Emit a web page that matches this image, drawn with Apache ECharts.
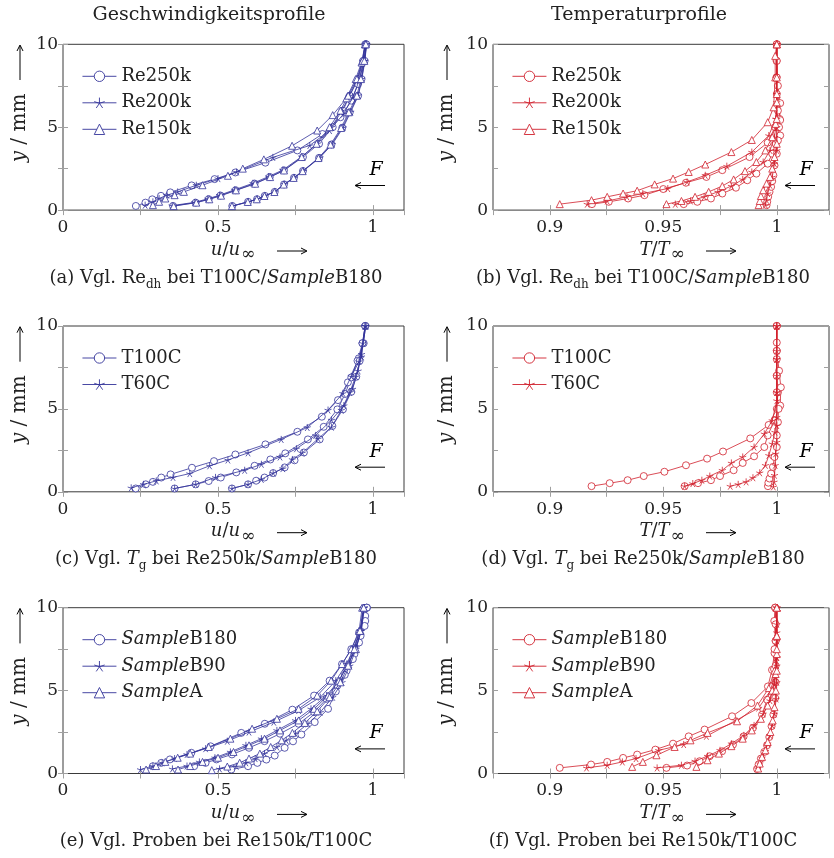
<!DOCTYPE html>
<html>
<head>
<meta charset="utf-8">
<script src="https://cdn.jsdelivr.net/npm/echarts@6/dist/echarts.min.js"></script>
<style>
  html, body { margin: 0; padding: 0; background: #fff; }
  #chart { width: 834px; height: 858px; }
</style>
</head>
<body>
<div id="chart"></div>
<script>
// ---------------- measured profiles: [value, y in mm] ----------------
// Each series holds three wall-normal profiles (three measurement stations).

// (a) velocity, Reynolds number variation
const velRe250k = [
  [[0.235,0.25],[0.266,0.45],[0.288,0.65],[0.316,0.86],[0.346,1.07],[0.415,1.49],[0.489,1.87],[0.556,2.27],[0.653,2.86],[0.756,3.6],[0.837,4.59],[0.895,5.6],[0.93,6.6],[0.952,7.6],[0.97,9.0],[0.978,10]],
  [[0.355,0.25],[0.428,0.45],[0.47,0.66],[0.508,0.88],[0.557,1.2],[0.618,1.6],[0.667,2.0],[0.713,2.4],[0.774,3.2],[0.826,4.0],[0.87,5.0],[0.903,6.0],[0.925,6.9],[0.952,7.9],[0.968,9.0],[0.975,10]],
  [[0.546,0.25],[0.597,0.5],[0.626,0.66],[0.651,0.86],[0.683,1.1],[0.713,1.55],[0.745,1.95],[0.774,2.36],[0.826,3.15],[0.866,3.96],[0.901,4.97],[0.925,5.9],[0.952,6.9],[0.963,7.9],[0.973,9.0],[0.978,10]]
];
const velRe200k = [
  [[0.265,0.3],[0.29,0.5],[0.31,0.7],[0.335,0.9],[0.37,1.1],[0.43,1.5],[0.5,1.9],[0.56,2.3],[0.677,3.18],[0.796,3.9],[0.86,4.8],[0.905,5.8],[0.935,6.8],[0.955,7.8],[0.972,9.0],[0.98,10]],
  [[0.352,0.27],[0.425,0.47],[0.467,0.68],[0.505,0.9],[0.553,1.22],[0.613,1.62],[0.663,2.02],[0.709,2.42],[0.77,3.22],[0.822,4.02],[0.866,5.0],[0.9,6.0],[0.924,6.9],[0.95,7.9],[0.967,9.0],[0.975,10]],
  [[0.548,0.25],[0.598,0.5],[0.627,0.67],[0.652,0.87],[0.684,1.12],[0.715,1.56],[0.747,1.96],[0.776,2.37],[0.829,3.17],[0.869,3.98],[0.904,4.98],[0.928,5.92],[0.953,6.92],[0.964,7.92],[0.974,9.0],[0.979,10]]
];
const velRe150k = [
  [[0.29,0.3],[0.31,0.5],[0.33,0.7],[0.36,0.9],[0.39,1.1],[0.45,1.5],[0.532,2.07],[0.58,2.5],[0.648,3.06],[0.739,3.88],[0.82,4.8],[0.87,5.73],[0.914,6.74],[0.944,7.9],[0.963,8.9],[0.975,10]],
  [[0.357,0.24],[0.43,0.45],[0.472,0.65],[0.51,0.87],[0.558,1.19],[0.62,1.59],[0.668,1.99],[0.713,2.39],[0.77,3.2],[0.818,4.0],[0.86,5.0],[0.895,6.0],[0.92,6.9],[0.948,7.9],[0.966,9.0],[0.974,10]],
  [[0.545,0.24],[0.596,0.49],[0.625,0.65],[0.65,0.85],[0.682,1.09],[0.712,1.54],[0.744,1.94],[0.773,2.35],[0.824,3.14],[0.863,3.95],[0.897,4.95],[0.922,5.9],[0.948,6.9],[0.961,7.9],[0.972,9.0],[0.977,10]]
];

// (b) temperature, Reynolds number variation
const tmpRe250k = [
  [[0.9186,0.36],[0.926,0.5],[0.9345,0.7],[0.9417,0.9],[0.950,1.27],[0.960,1.65],[0.969,2.0],[0.976,2.41],[0.988,3.2],[0.996,4.07],[0.9992,5.0],[1.0005,6.0],[1.0,7.0],[0.9998,8.0],[0.9999,9.0],[1.0,10]],
  [[0.959,0.36],[0.965,0.5],[0.971,0.7],[0.976,1.0],[0.982,1.35],[0.987,1.8],[0.991,2.2],[0.996,2.8],[0.998,3.4],[0.9995,4.0],[1.0015,4.5],[1.0012,5.5],[1.0015,6.45],[1.0005,7.5],[1.0,9.0],[1.0,10]],
  [[0.9955,0.3],[0.9958,0.5],[0.9962,0.8],[0.9968,1.1],[0.9975,1.4],[0.998,1.75],[0.9985,2.1],[0.999,2.7],[1.0,3.4],[1.0005,4.2],[1.001,5.0],[1.0015,5.43],[1.0,8.0],[1.0,10]]
];
const tmpRe200k = [
  [[0.9165,0.36],[0.9253,0.55],[0.934,0.8],[0.941,1.0],[0.952,1.3],[0.9605,1.7],[0.9685,2.1],[0.978,2.65],[0.989,3.5],[0.9965,4.5],[0.9995,5.5],[1.0,6.5],[1.0,8.0],[1.0,10]],
  [[0.9553,0.36],[0.962,0.55],[0.968,0.8],[0.974,1.1],[0.98,1.45],[0.985,1.85],[0.989,2.3],[0.994,2.9],[0.997,3.6],[0.999,4.4],[1.0,5.5],[1.0,7.0],[1.0,10]],
  [[0.995,0.3],[0.9955,0.6],[0.996,1.0],[0.997,1.5],[0.998,2.0],[0.999,2.8],[1.0,3.6],[1.0,5.0],[1.0,7.0],[1.0,10]]
];
const tmpRe150k = [
  [[0.9044,0.36],[0.9184,0.6],[0.9253,0.8],[0.9323,1.0],[0.9385,1.17],[0.9462,1.55],[0.9543,1.9],[0.9612,2.3],[0.9685,2.75],[0.980,3.5],[0.989,4.23],[0.996,5.3],[0.9986,6.2],[0.9993,8.0],[0.9993,9.3],[1.0,10]],
  [[0.9514,0.36],[0.958,0.55],[0.964,0.8],[0.97,1.1],[0.976,1.45],[0.981,1.85],[0.986,2.35],[0.991,2.9],[0.995,3.6],[0.998,4.4],[0.9995,5.2],[1.0,6.5],[1.0,8.0],[1.0,10]],
  [[0.992,0.3],[0.9925,0.55],[0.993,0.85],[0.994,1.2],[0.9955,1.6],[0.997,2.0],[0.998,2.5],[0.999,3.2],[1.0,4.0],[1.0,5.5],[1.0,7.0],[1.0,10]]
];

// (c) velocity, gas temperature variation
const velT100C = [
  [[0.2345,0.2],[0.267,0.45],[0.29,0.6],[0.317,0.86],[0.347,1.05],[0.416,1.45],[0.487,1.85],[0.556,2.25],[0.653,2.86],[0.756,3.62],[0.835,4.53],[0.887,5.53],[0.919,6.6],[0.954,8.05],[0.97,8.96],[0.975,10]],
  [[0.36,0.2],[0.428,0.45],[0.47,0.65],[0.509,0.86],[0.559,1.17],[0.618,1.57],[0.669,1.95],[0.717,2.32],[0.79,3.16],[0.841,3.92],[0.885,4.97],[0.91,5.9],[0.93,6.9],[0.95,7.9],[0.966,8.96],[0.975,10]],
  [[0.545,0.2],[0.597,0.45],[0.623,0.67],[0.65,0.86],[0.678,1.13],[0.715,1.47],[0.747,1.9],[0.777,2.37],[0.828,3.16],[0.869,3.97],[0.903,4.97],[0.93,6.03],[0.946,6.94],[0.957,7.9],[0.966,8.96],[0.975,10]]
];
const velT60C = [
  [[0.22,0.24],[0.26,0.45],[0.301,0.66],[0.355,0.87],[0.409,1.1],[0.473,1.57],[0.532,1.92],[0.597,2.35],[0.704,3.16],[0.788,3.88],[0.855,4.93],[0.903,5.94],[0.93,6.96],[0.955,7.86],[0.967,8.96],[0.978,10]],
  [[0.36,0.2],[0.428,0.45],[0.492,0.87],[0.586,1.3],[0.64,1.66],[0.7,2.1],[0.753,2.6],[0.815,3.4],[0.866,4.33],[0.906,5.2],[0.934,6.2],[0.952,7.3],[0.963,8.3],[0.975,10]],
  [[0.545,0.2],[0.597,0.45],[0.64,0.75],[0.678,1.13],[0.709,1.4],[0.74,1.95],[0.772,2.35],[0.823,3.2],[0.866,3.9],[0.898,4.93],[0.925,6.0],[0.944,6.94],[0.963,8.15],[0.974,10]]
];

// (d) temperature, gas temperature variation
const tmpT100C = [
  [[0.9184,0.34],[0.9264,0.52],[0.9343,0.7],[0.9414,0.95],[0.9505,1.21],[0.960,1.6],[0.9693,2.0],[0.9763,2.43],[0.9883,3.22],[0.9964,4.03],[1.0,5.0],[1.0005,6.0],[1.0,7.0],[1.0,8.0],[1.0,9.0],[1.0,10]],
  [[0.9594,0.34],[0.9653,0.52],[0.971,0.7],[0.975,0.95],[0.981,1.3],[0.985,1.74],[0.990,2.14],[0.9945,2.7],[0.996,3.4],[0.999,4.3],[1.0015,5.2],[1.0018,6.3],[1.001,7.3],[1.0,8.5],[1.0,10]],
  [[0.9961,0.34],[0.9963,0.55],[0.9968,0.8],[0.9975,1.1],[0.9983,1.5],[0.999,2.1],[1.0,2.7],[1.0,3.4],[1.0005,4.2],[1.0008,5.0],[1.0,6.0],[1.0,7.0],[1.0,8.5],[1.0,10]]
];
const tmpT60C = [
  [[0.9594,0.34],[0.963,0.5],[0.967,0.7],[0.9705,0.95],[0.976,1.3],[0.980,1.74],[0.985,2.1],[0.990,2.7],[0.9945,3.5],[0.998,4.3],[1.0,5.5],[1.0,7.0],[1.0,8.5],[1.0,10]],
  [[0.9795,0.34],[0.983,0.45],[0.9865,0.6],[0.9895,0.85],[0.9925,1.15],[0.995,1.6],[0.9965,2.2],[0.998,2.9],[0.9992,3.6],[1.0,4.5],[1.0,6.0],[1.0,8.0],[1.0,10]],
  [[0.9985,0.3],[0.9988,0.6],[0.999,1.0],[0.9993,1.6],[0.9995,2.3],[1.0,3.0],[1.0,4.0],[1.0,6.0],[1.0,8.0],[1.0,10]]
];

// (e) velocity, sample variation
const velB180 = [
  [[0.29,0.44],[0.317,0.64],[0.345,0.85],[0.414,1.25],[0.476,1.64],[0.575,2.45],[0.651,3.0],[0.74,3.85],[0.81,4.7],[0.86,5.6],[0.9,6.6],[0.93,7.5],[0.955,8.5],[0.975,9.5],[0.98,10]],
  [[0.423,0.44],[0.46,0.64],[0.495,0.85],[0.545,1.15],[0.6,1.55],[0.65,1.95],[0.7,2.4],[0.76,3.0],[0.81,3.7],[0.85,4.5],[0.885,5.3],[0.915,6.2],[0.94,7.2],[0.96,8.3],[0.975,9.2],[0.98,10]],
  [[0.543,0.24],[0.597,0.44],[0.627,0.64],[0.656,0.84],[0.683,1.08],[0.715,1.55],[0.742,1.94],[0.769,2.35],[0.812,3.1],[0.855,3.9],[0.88,4.95],[0.909,5.95],[0.935,6.9],[0.955,7.9],[0.973,8.9],[0.98,10]]
];
const velB90 = [
  [[0.25,0.24],[0.29,0.45],[0.32,0.65],[0.36,0.9],[0.4,1.15],[0.46,1.5],[0.53,1.95],[0.6,2.5],[0.68,3.1],[0.76,3.8],[0.83,4.6],[0.88,5.6],[0.915,6.6],[0.94,7.6],[0.958,8.6],[0.97,10]],
  [[0.353,0.28],[0.4,0.45],[0.44,0.7],[0.49,0.95],[0.54,1.3],[0.59,1.7],[0.64,2.1],[0.69,2.6],[0.75,3.2],[0.8,3.9],[0.85,4.7],[0.89,5.6],[0.92,6.6],[0.945,7.6],[0.962,8.6],[0.972,10]],
  [[0.505,0.28],[0.559,0.44],[0.59,0.65],[0.62,0.9],[0.65,1.2],[0.69,1.6],[0.72,2.0],[0.75,2.4],[0.79,3.0],[0.83,3.7],[0.87,4.6],[0.9,5.5],[0.925,6.5],[0.945,7.5],[0.962,8.6],[0.972,10]]
];
const velA = [
  [[0.268,0.24],[0.3,0.45],[0.33,0.7],[0.37,0.95],[0.41,1.2],[0.47,1.6],[0.54,2.1],[0.61,2.7],[0.69,3.3],[0.76,3.9],[0.82,4.7],[0.865,5.6],[0.9,6.6],[0.93,7.5],[0.955,8.6],[0.965,10]],
  [[0.371,0.24],[0.41,0.45],[0.45,0.7],[0.5,0.95],[0.55,1.3],[0.6,1.7],[0.65,2.1],[0.7,2.6],[0.76,3.2],[0.81,3.9],[0.855,4.7],[0.89,5.6],[0.92,6.6],[0.945,7.5],[0.96,8.6],[0.97,10]],
  [[0.48,0.2],[0.53,0.42],[0.57,0.65],[0.6,0.9],[0.635,1.2],[0.67,1.6],[0.705,2.0],[0.74,2.45],[0.78,3.05],[0.82,3.75],[0.86,4.6],[0.895,5.5],[0.92,6.5],[0.94,7.5],[0.958,8.6],[0.97,10]]
];

// (f) temperature, sample variation
const tmpB180 = [
  [[0.9044,0.34],[0.9182,0.54],[0.9253,0.7],[0.9323,0.94],[0.9385,1.14],[0.9465,1.44],[0.9543,1.8],[0.9612,2.24],[0.9682,2.65],[0.9803,3.45],[0.9888,4.25],[0.9961,5.25],[0.9979,6.25],[0.999,7.26],[0.9995,8.0],[0.9989,9.2],[0.9993,10]],
  [[0.9514,0.34],[0.9605,0.48],[0.966,0.74],[0.9704,1.04],[0.9759,1.34],[0.9807,1.74],[0.9854,2.24],[0.9895,2.75],[0.9935,3.55],[0.9957,4.45],[0.998,5.3],[0.9988,6.3],[0.999,7.5],[0.9995,9.0],[0.9993,10]],
  [[0.9913,0.28],[0.992,0.55],[0.993,0.9],[0.9945,1.3],[0.9957,1.7],[0.9967,2.2],[0.9977,2.85],[0.9985,3.55],[0.9993,4.55],[0.9995,5.5],[0.9995,6.5],[0.9995,8.0],[0.9993,10]]
];
const tmpB90 = [
  [[0.9162,0.34],[0.9253,0.5],[0.932,0.7],[0.938,0.9],[0.948,1.4],[0.959,1.75],[0.969,2.25],[0.982,3.2],[0.992,3.95],[0.997,4.95],[0.9995,6.0],[1.0,7.0],[1.0,8.5],[1.0,10]],
  [[0.9473,0.34],[0.958,0.5],[0.964,0.75],[0.9695,1.05],[0.975,1.4],[0.98,1.8],[0.9855,2.3],[0.99,2.9],[0.994,3.6],[0.997,4.4],[0.999,5.4],[1.0,6.5],[1.0,8.0],[1.0,10]],
  [[0.9915,0.3],[0.9925,0.6],[0.9935,0.95],[0.995,1.35],[0.996,1.8],[0.997,2.3],[0.998,2.9],[0.999,3.6],[0.9997,4.5],[1.0,5.5],[1.0,7.0],[1.0,9.0],[1.0,10]]
];
const tmpA = [
  [[0.9363,0.4],[0.941,0.7],[0.947,1.1],[0.955,1.6],[0.962,2.0],[0.9695,2.45],[0.9825,3.15],[0.9915,4.1],[0.9965,5.15],[0.999,6.2],[1.0,7.2],[1.0,8.3],[1.0,10]],
  [[0.9646,0.4],[0.9695,0.8],[0.9745,1.2],[0.98,1.65],[0.985,2.1],[0.989,2.6],[0.993,3.3],[0.996,4.1],[0.998,5.0],[0.9995,6.0],[1.0,7.5],[1.0,10]],
  [[0.9918,0.3],[0.9925,0.6],[0.9935,1.0],[0.995,1.4],[0.996,1.9],[0.9972,2.5],[0.9982,3.2],[0.999,4.0],[0.9996,5.0],[1.0,6.2],[1.0,8.3],[1.0,10]]
];

// legend entries and tick labels
const legendRe = ['Re250k', 'Re200k', 'Re150k'];
const legendTg = ['T100C', 'T60C'];
const legendSample = ['{i|Sample}B180', '{i|Sample}B90', '{i|Sample}A'];
const velTickLabels = [0, 0.5, 1];
const tmpTickLabels = [0.9, 0.95, 1];
const yTickLabels = [0, 5, 10];

// ---------------- styling / layout ----------------
const BLUE = '#34349a';
const RED = '#d0202c';
const INK = '#222';
const FONT = 'DejaVu Serif';
const STAR = 'path://M0,-10L0,0M9.51,-3.09L0,0M5.88,8.09L0,0M-5.88,8.09L0,0M-9.51,-3.09L0,0';
const SYMBOL = { circle: 'circle', star: STAR, triangle: 'triangle' };

const colLeft = [63, 493];
const colWidth = [341, 336];
const rowTop = [44.3, 326, 607.7];
const plotH = 165.8;

const panels = [
  { id: 'a', row: 0, col: 0, kind: 'vel', color: BLUE, labels: legendRe, marks: ['circle', 'star', 'triangle'], data: [velRe250k, velRe200k, velRe150k],
    caption: '(a) Vgl. Re{sub|dh} bei T100C/{i|Sample}B180' },
  { id: 'b', row: 0, col: 1, kind: 'tmp', color: RED, labels: legendRe, marks: ['circle', 'star', 'triangle'], data: [tmpRe250k, tmpRe200k, tmpRe150k],
    caption: '(b) Vgl. Re{sub|dh} bei T100C/{i|Sample}B180' },
  { id: 'c', row: 1, col: 0, kind: 'vel', color: BLUE, labels: legendTg, marks: ['circle', 'star'], data: [velT100C, velT60C],
    caption: '(c) Vgl. {i|T}{sub|g} bei Re250k/{i|Sample}B180' },
  { id: 'd', row: 1, col: 1, kind: 'tmp', color: RED, labels: legendTg, marks: ['circle', 'star'], data: [tmpT100C, tmpT60C],
    caption: '(d) Vgl. {i|T}{sub|g} bei Re250k/{i|Sample}B180' },
  { id: 'e', row: 2, col: 0, kind: 'vel', color: BLUE, labels: legendSample, marks: ['circle', 'star', 'triangle'], data: [velB180, velB90, velA],
    caption: '(e) Vgl. Proben bei Re150k/T100C' },
  { id: 'f', row: 2, col: 1, kind: 'tmp', color: RED, labels: legendSample, marks: ['circle', 'star', 'triangle'], data: [tmpB180, tmpB90, tmpA],
    caption: '(f) Vgl. Proben bei Re150k/T100C' }
];

const near = (a, b) => Math.abs(a - b) < 1e-6;
function tickFormatter(list) {
  return v => {
    const hit = list.find(t => near(t, v));
    return hit === undefined ? '' : String(hit);
  };
}

function xAxisFor(gi, kind, position) {
  const vel = kind === 'vel';
  return {
    type: 'value', gridIndex: gi, position: position,
    min: vel ? 0 : 0.875, max: vel ? 1.1 : 1.023, interval: vel ? 0.25 : 0.025,
    axisLine: { show: false }, splitLine: { show: false },
    axisTick: { show: true, inside: true, length: 5, lineStyle: { color: '#a0a0a0', width: 1 } },
    axisLabel: { show: position === 'bottom', margin: 9, color: INK, fontFamily: FONT, fontSize: 17,
      formatter: tickFormatter(vel ? velTickLabels : tmpTickLabels) }
  };
}
function yAxisFor(gi, position) {
  return {
    type: 'value', gridIndex: gi, position: position,
    min: 0, max: 10, interval: 2.5,
    axisLine: { show: false }, splitLine: { show: false },
    axisTick: { show: true, inside: true, length: 5, lineStyle: { color: '#a0a0a0', width: 1 } },
    axisLabel: { show: position === 'left', margin: 5, color: INK, fontFamily: FONT, fontSize: 17,
      formatter: tickFormatter(yTickLabels) }
  };
}

const grids = [], xAxes = [], yAxes = [], series = [], legends = [], graphics = [];

function arrow(x1, y1, x2, y2) {
  const dx = x2 - x1, dy = y2 - y1, L = Math.hypot(dx, dy);
  const ux = dx / L, uy = dy / L, nx = -uy, ny = ux;
  const bx = x2 - ux * 6, by = y2 - uy * 6;
  return [
    { type: 'line', silent: true, shape: { x1: x1, y1: y1, x2: x2 - ux * 1, y2: y2 - uy * 1 }, style: { stroke: '#000', lineWidth: 1 } },
    { type: 'polyline', silent: true, shape: { points: [[bx + nx * 3, by + ny * 3], [x2, y2], [bx - nx * 3, by - ny * 3]] },
      style: { stroke: '#000', lineWidth: 1, fill: null } }
  ];
}

const richBase = {
  i: { fontStyle: 'italic', fontFamily: FONT, fontSize: 18, color: INK },
  sub: { fontFamily: FONT, fontSize: 12, color: INK, padding: [13, 0, 0, 0] },
  inf: { fontFamily: FONT, fontSize: 17, color: INK, padding: [10, 0, 0, 1] },
  yi: { fontStyle: 'italic', fontFamily: FONT, fontSize: 20, color: INK }
};

panels.forEach((p, gi) => {
  const left = colLeft[p.col], top = rowTop[p.row], width = colWidth[p.col];
  grids.push({ left: left, top: top, width: width, height: plotH, show: true,
    borderColor: '#3a3a3a', borderWidth: 1, backgroundColor: 'transparent', containLabel: false });
  xAxes.push(xAxisFor(gi, p.kind, 'bottom'));
  xAxes.push(xAxisFor(gi, p.kind, 'top'));
  yAxes.push(yAxisFor(gi, 'left'));
  yAxes.push(yAxisFor(gi, 'right'));

  const names = [];
  p.data.forEach((profiles, si) => {
    const name = p.id + '|' + si;
    names.push(name);
    profiles.forEach(prof => {
      series.push({
        type: 'line', name: name, xAxisIndex: 2 * gi, yAxisIndex: 2 * gi,
        data: prof, symbol: SYMBOL[p.marks[si]], symbolSize: 7, showSymbol: true,
        lineStyle: { color: p.color, width: 0.8 },
        itemStyle: { color: '#fff', borderColor: p.color, borderWidth: 0.8 },
        z: 2 + si, silent: true, animation: false, clip: false
      });
    });
  });

  const labels = p.labels;
  legends.push({
    data: names, orient: 'vertical', left: left + 19, top: top + 23, padding: 0,
    itemWidth: 34, itemHeight: 13, itemGap: 8.5, selectedMode: false,
    itemStyle: { color: '#fff', borderColor: p.color, borderWidth: 0.9 },
    lineStyle: { color: p.color, width: 0.9 },
    formatter: n => labels[+n.split('|')[1]],
    textStyle: { fontFamily: FONT, fontSize: 18, color: INK, rich: richBase }
  });

  // axis titles and flow direction marker
  const R = top - 44.3;
  const vel = p.kind === 'vel';
  const yLabX = p.col === 0 ? 20 : 447;
  graphics.push({ type: 'text', silent: true, x: yLabX, y: 128 + R, rotation: Math.PI / 2,
    style: { text: '{yi|y} / mm', fontFamily: FONT, fontSize: 20, fill: INK, align: 'center', verticalAlign: 'middle', rich: richBase } });
  graphics.push(...arrow(yLabX, 80 + R, yLabX, 45 + R));

  const xLabCx = vel ? 233 : 662;
  graphics.push({ type: 'text', silent: true, x: xLabCx, y: 250 + R,
    style: { text: vel ? '{i|u}/{i|u}{inf|∞}' : '{i|T}/{i|T}{inf|∞}', fontFamily: FONT, fontSize: 18, fill: INK,
      align: 'center', verticalAlign: 'middle', rich: richBase } });
  const ax0 = vel ? 277 : 706;
  graphics.push(...arrow(ax0, 251 + R, ax0 + 30, 251 + R));

  const fx = vel ? 376 : 806;
  graphics.push({ type: 'text', silent: true, x: fx, y: 170 + R,
    style: { text: 'F', fontFamily: FONT, fontStyle: 'italic', fontSize: 19, fill: '#000', align: 'center', verticalAlign: 'middle' } });
  graphics.push(...arrow(fx + 9, 185.5 + R, fx - 21, 185.5 + R));

  graphics.push({ type: 'text', silent: true, x: p.col === 0 ? 216 : 643, y: 278 + R,
    style: { text: p.caption, fontFamily: FONT, fontSize: 18, fill: INK, align: 'center', verticalAlign: 'middle', rich: richBase } });
});

graphics.push({ type: 'text', silent: true, x: 209, y: 15,
  style: { text: 'Geschwindigkeitsprofile', fontFamily: FONT, fontSize: 19, fill: INK, align: 'center', verticalAlign: 'middle' } });
graphics.push({ type: 'text', silent: true, x: 639, y: 15,
  style: { text: 'Temperaturprofile', fontFamily: FONT, fontSize: 19, fill: INK, align: 'center', verticalAlign: 'middle' } });

const chart = echarts.init(document.getElementById('chart'), null, { renderer: 'canvas' });
chart.setOption({
  animation: false,
  backgroundColor: '#fff',
  grid: grids, xAxis: xAxes, yAxis: yAxes,
  legend: legends, series: series,
  graphic: { elements: graphics }
});
</script>
</body>
</html>
